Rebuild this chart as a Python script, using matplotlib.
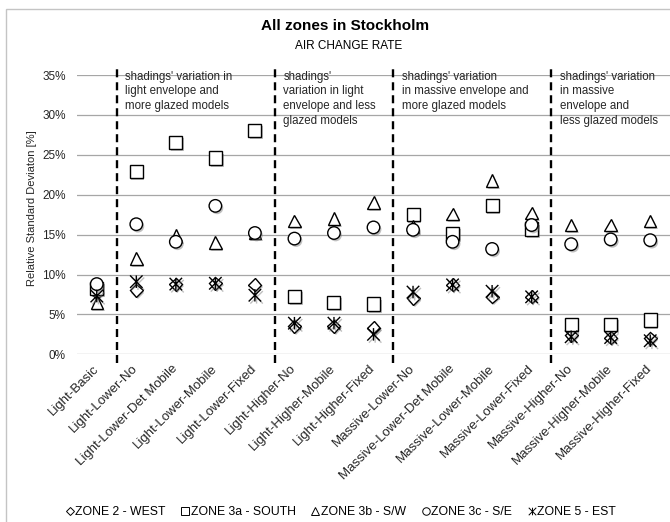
"""
All zones in Stockholm -- air change rate, relative standard deviation per model variant.
Excel-style scatter of five zones with dashed separators between the shading groups.
"""
import numpy as np
import matplotlib
matplotlib.use("Agg")
import matplotlib.pyplot as plt
import matplotlib.patheffects as pe
from matplotlib.lines import Line2D
from matplotlib.path import Path
from matplotlib.patches import Rectangle
from matplotlib.ticker import FuncFormatter

plt.rcParams["font.family"] = ["Liberation Sans", "DejaVu Sans"]

W, H = 670, 522

models = ["Light-Basic", "Light-Lower-No", "Light-Lower-Det Mobile", "Light-Lower-Mobile",
          "Light-Lower-Fixed", "Light-Higher-No", "Light-Higher-Mobile", "Light-Higher-Fixed",
          "Massive-Lower-No", "Massive-Lower-Det Mobile", "Massive-Lower-Mobile",
          "Massive-Lower-Fixed", "Massive-Higher-No", "Massive-Higher-Mobile",
          "Massive-Higher-Fixed"]

# relative standard deviation [%]
zone2_west  = [7.7, 8.0, 8.8, 8.9, 8.7, 3.5, 3.5, 3.3, 7.0, 8.7, 7.2, 7.2, 2.4, 2.1, 2.0]
zone3a_south = [8.3, 22.9, 26.6, 24.6, 28.1, 7.2, 6.5, 6.3, 17.5, 15.1, 18.6, 15.7, 3.7, 3.7, 4.3]
zone3b_sw   = [6.5, 12.0, 14.9, 14.0, 15.2, 16.7, 17.0, 19.0, 16.0, 17.6, 21.8, 17.7, 16.2, 16.2, 16.7]
zone3c_se   = [8.8, 16.3, 14.1, 18.6, 15.2, 14.5, 15.2, 15.9, 15.6, 14.1, 13.2, 16.2, 13.8, 14.4, 14.3]
zone5_est   = [7.3, 9.1, 8.8, 8.9, 7.4, 3.9, 3.9, 2.5, 7.8, 8.7, 7.9, 7.2, 2.2, 2.1, 1.7]

group_edges = [0.5, 4.5, 7.5, 11.5]
group_notes = ["shadings' variation in\nlight envelope and\nmore glazed models",
               "shadings'\nvariation in light\nenvelope and less\nglazed models",
               "shadings' variation\nin massive envelope and\nmore glazed models",
               "shadings' variation\nin massive\nenvelope and\nless glazed models"]

# Excel "star" marker: an X with a vertical bar
star = Path([(-1, -1), (1, 1), (-1, 1), (1, -1), (0, -1), (0, 1)],
            [Path.MOVETO, Path.LINETO, Path.MOVETO, Path.LINETO, Path.MOVETO, Path.LINETO])

# values, marker, plot size, legend size, label
series = [
    (zone2_west,   "D",  6.6, 4.2, "ZONE 2 - WEST"),
    (zone3a_south, "s",  9.4, 5.6, "ZONE 3a - SOUTH"),
    (zone3b_sw,    "^",  9.0, 6.2, "ZONE 3b - S/W"),
    (zone3c_se,    "o",  9.0, 5.4, "ZONE 3c - S/E"),
    (zone5_est,    star, 9.0, 5.4, "ZONE 5 - EST"),
]

fig = plt.figure(figsize=(W / 100, H / 100), dpi=100)
ax = fig.add_axes([77 / W, 1 - 354.3 / H, 593 / W, (354.3 - 75) / H])

x = np.arange(len(models))
shadow = [pe.SimplePatchShadow(offset=(1.2, -1.5), shadow_rgbFace="0.45", alpha=0.45), pe.Normal()]
lshadow = [pe.SimpleLineShadow(offset=(1.2, -1.5), shadow_color="0.45", alpha=0.45), pe.Normal()]

handles = []
for k, (vals, mk, ms, lms, lab) in enumerate(series):
    is_star = mk is star
    ax.plot(x, vals, ls="none", marker=mk, ms=ms, mec="black", mfc="white", mew=1.0,
            zorder=3 + k, clip_on=False, path_effects=lshadow if is_star else shadow)
    handles.append(Line2D([], [], ls="none", marker=mk, ms=lms, mec="black",
                          mfc="white", mew=0.7, label=lab))

# dashed group separators, reaching a little past the plot area
for xe in group_edges:
    ax.plot([xe, xe], [-1.1, 36.3], color="black", lw=1.7, dashes=(3.4, 2.1),
            clip_on=False, zorder=2)
for xe, note in zip(group_edges, group_notes):
    ax.text(xe + 0.22, 35.55, note, ha="left", va="top", fontsize=8.3, color="#262626",
            linespacing=1.3, clip_on=False, zorder=2)

ax.set_xlim(-0.5, len(models) - 0.5)
ax.set_ylim(0, 35)
ax.set_yticks(np.arange(0, 36, 5))
ax.yaxis.set_major_formatter(FuncFormatter(lambda v, p: "%d%%" % v))
ax.grid(axis="y", color="#a6a6a6", lw=0.9)
ax.set_axisbelow(True)
for s in ax.spines.values():
    s.set_visible(False)
ax.tick_params(axis="both", length=0, labelcolor="#262626")
ax.tick_params(axis="y", pad=8, labelsize=8.5)
ax.tick_params(axis="x", pad=9, labelsize=9.5)
ax.set_xticks(x)
ax.set_xticklabels(models, rotation=45, ha="right", va="center", rotation_mode="anchor")

fig.text(345 / W, 1 - 26.5 / H, "All zones in Stockholm", ha="center", va="center",
         fontsize=11, fontweight="bold")
fig.text(349 / W, 1 - 46 / H, "AIR CHANGE RATE", ha="center", va="center", fontsize=8.5)
fig.text(32 / W, 1 - 208.5 / H, "Relative Standard Deviaton [%]", rotation=90,
         ha="center", va="center", fontsize=8, color="#262626")

fig.legend(handles=handles, loc="center", bbox_to_anchor=(341 / W, 1 - 512 / H), ncol=5,
           frameon=False, fontsize=8.8, handlelength=0.6, handletextpad=0.15,
           columnspacing=1.3, borderaxespad=0)

fig.patches.append(Rectangle((6 / W, -0.1), 1.0, 1.1 - 8.5 / H, transform=fig.transFigure,
                             fill=False, edgecolor="#c4c4c4", lw=1.0))

fig.savefig("out.png", dpi=100)
